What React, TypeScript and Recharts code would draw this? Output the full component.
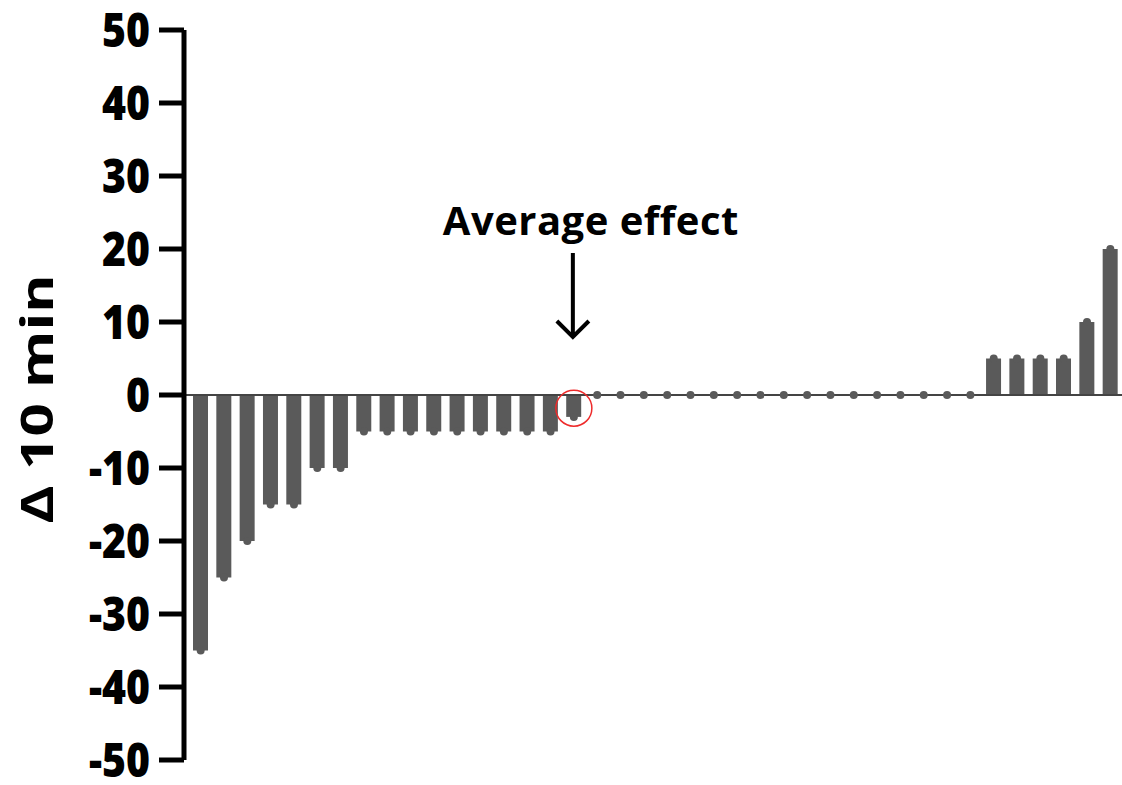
import { Bar, ComposedChart, Line, ReferenceDot, ReferenceLine, XAxis, YAxis } from 'recharts'

// change after 10 min for each subject, sorted from largest drop to largest gain
const deltas = [
  -35, -25, -20, -15, -15, -10, -10,
  -5, -5, -5, -5, -5, -5, -5, -5, -5,
  -3,
  0, 0, 0, 0, 0, 0, 0, 0, 0, 0, 0, 0, 0, 0, 0, 0, 0,
  5, 5, 5, 5, 10, 20,
]
const subjects = deltas.map((_, i) => `S${i + 1}`)
const yTicks = [50, 40, 30, 20, 10, 0, -10, -20, -30, -40, -50]

const yLabel = 'Δ 10 min'
const averageLabel = 'Average effect'
const averageIndex = 16
const circleCenter = -1.8

const barColor = '#5a5a5a'

const data = subjects.map((subject, i) => ({ subject, delta: deltas[i] }))

const YTick = ({ x, y, payload }: any) => (
  <text
    transform={`translate(${x},${y}) scale(1,1.18)`}
    textAnchor="end"
    dy="0.36em"
    fontFamily="Open Sans"
    fontWeight={800}
    fontSize={41}
    fill="#000"
  >
    {payload.value}
  </text>
)

const YLabel = ({ viewBox }: any) => (
  <text
    transform={`translate(53,${viewBox.y + viewBox.height / 2 + 4}) scale(1,1.3) rotate(-90)`}
    textAnchor="middle"
    fontFamily="Open Sans"
    fontWeight={700}
    fontSize={45}
    fill="#000"
  >
    {yLabel}
  </text>
)

// text plus downward arrow pointing at the average bar
const AverageMarker = ({ cx, cy }: any) => (
  <g>
    <text
      x={cx + 17}
      y={cy - 160}
      textAnchor="middle"
      fontFamily="Open Sans"
      fontWeight={700}
      fontSize={40}
      letterSpacing={0.5}
      fill="#000"
    >
      {averageLabel}
    </text>
    <path
      d={`M${cx - 1},${cy - 142} V${cy - 58} M${cx - 17},${cy - 74} L${cx - 1},${cy - 58} L${cx + 15},${cy - 74}`}
      stroke="#000"
      strokeWidth={4}
      fill="none"
    />
  </g>
)

const App = () => {
  return (
    <div style={{ position: 'absolute', left: 0, top: 0, background: '#fff' }}>
      <ComposedChart
        width={1122}
        height={785}
        data={data}
        margin={{ top: 30, right: 0, bottom: 25, left: 0 }}
      >
        <XAxis dataKey="subject" hide padding={{ left: 5, right: 0 }} />
        <YAxis
          width={184}
          domain={[-50, 50]}
          ticks={yTicks}
          interval={0}
          allowDataOverflow
          axisLine={{ stroke: '#000', strokeWidth: 5 }}
          tickLine={{ stroke: '#000', strokeWidth: 5 }}
          tickSize={25}
          tickMargin={9}
          tick={<YTick />}
          label={{ content: <YLabel /> }}
        />
        <ReferenceLine y={0} stroke="#444" strokeWidth={2} />
        <Bar dataKey="delta" fill={barColor} barSize={15} isAnimationActive={false} />
        <Line
          dataKey="delta"
          stroke="none"
          dot={{ r: 4, fill: barColor, stroke: 'none' }}
          activeDot={false}
          legendType="none"
          isAnimationActive={false}
        />
        <ReferenceDot
          x={subjects[averageIndex]}
          y={circleCenter}
          r={18}
          fill="none"
          stroke="#ee2b2b"
          strokeWidth={1.5}
        />
        <ReferenceDot x={subjects[averageIndex]} y={0} shape={<AverageMarker />} />
      </ComposedChart>
    </div>
  )
}

export default App
